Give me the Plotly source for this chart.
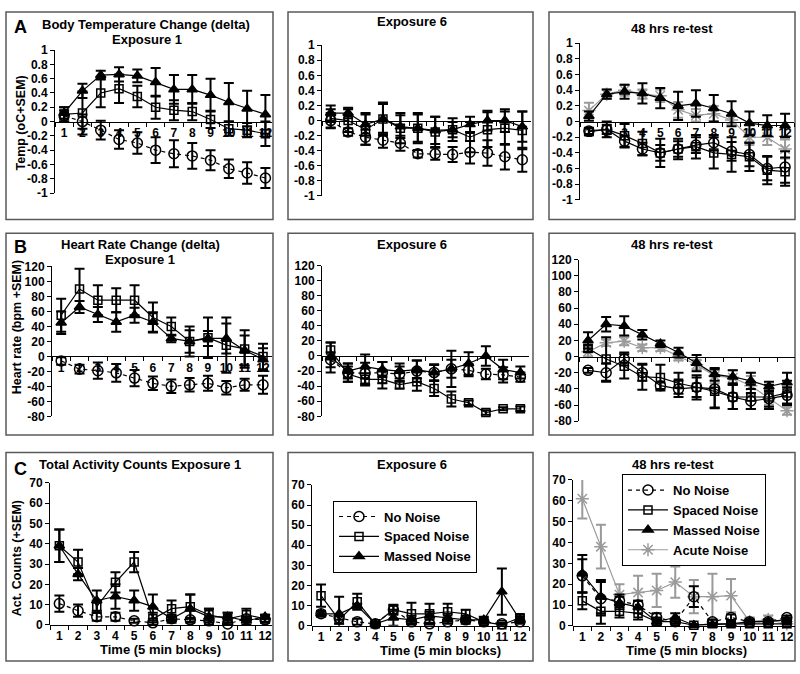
import plotly.graph_objects as go

W, H = 800, 674
blocks = [str(i) for i in range(1, 13)]

# ---- Body temperature change (oC), mean and SEM ----
temp_e1_none = [0.08, 0.0, -0.12, -0.25, -0.3, -0.4, -0.45, -0.48, -0.54, -0.66, -0.72, -0.79]
temp_e1_none_sem = [0.08, 0.1, 0.13, 0.13, 0.15, 0.18, 0.19, 0.18, 0.14, 0.13, 0.15, 0.14]
temp_e1_spaced = [0.1, 0.12, 0.4, 0.46, 0.35, 0.2, 0.16, 0.14, 0.03, -0.1, -0.12, -0.17]
temp_e1_spaced_sem = [0.1, 0.3, 0.2, 0.2, 0.15, 0.16, 0.14, 0.12, 0.12, 0.1, 0.1, 0.17]
temp_e1_massed = [0.12, 0.43, 0.65, 0.66, 0.64, 0.55, 0.45, 0.45, 0.37, 0.27, 0.18, 0.1]
temp_e1_massed_sem = [0.08, 0.1, 0.06, 0.1, 0.09, 0.2, 0.2, 0.2, 0.23, 0.27, 0.25, 0.27]

temp_e6_none = [0.0, -0.15, -0.22, -0.26, -0.3, -0.44, -0.44, -0.45, -0.42, -0.43, -0.48, -0.52]
temp_e6_none_sem = [0.1, 0.05, 0.1, 0.1, 0.1, 0.05, 0.08, 0.1, 0.15, 0.17, 0.17, 0.16]
temp_e6_spaced = [0.03, 0.0, -0.12, 0.02, -0.1, -0.1, -0.15, -0.12, -0.22, -0.12, -0.1, -0.13]
temp_e6_spaced_sem = [0.12, 0.15, 0.2, 0.22, 0.2, 0.2, 0.2, 0.15, 0.2, 0.23, 0.22, 0.25]
temp_e6_massed = [0.1, 0.1, -0.05, 0.02, -0.08, -0.1, -0.13, -0.12, -0.05, 0.0, 0.0, -0.08]
temp_e6_massed_sem = [0.1, 0.07, 0.15, 0.2, 0.15, 0.18, 0.18, 0.1, 0.1, 0.13, 0.15, 0.2]

temp_rt_none = [-0.12, -0.1, -0.25, -0.35, -0.4, -0.35, -0.3, -0.27, -0.38, -0.42, -0.6, -0.58]
temp_rt_none_sem = [0.04, 0.06, 0.07, 0.08, 0.1, 0.1, 0.1, 0.1, 0.12, 0.15, 0.15, 0.2]
temp_rt_spaced = [-0.13, -0.1, -0.18, -0.28, -0.4, -0.35, -0.32, -0.4, -0.42, -0.45, -0.62, -0.64]
temp_rt_spaced_sem = [0.04, 0.1, 0.15, 0.15, 0.18, 0.13, 0.15, 0.2, 0.22, 0.18, 0.18, 0.18]
temp_rt_massed = [0.07, 0.35, 0.38, 0.36, 0.3, 0.2, 0.23, 0.17, 0.1, -0.02, -0.05, -0.05]
temp_rt_massed_sem = [0.06, 0.06, 0.09, 0.13, 0.13, 0.18, 0.17, 0.17, 0.16, 0.15, 0.13, 0.15]
temp_rt_acute = [0.14, 0.35, 0.4, 0.35, 0.33, 0.15, 0.08, 0.1, 0.02, -0.2, -0.2, -0.35]
temp_rt_acute_sem = [0.1, 0.06, 0.07, 0.06, 0.08, 0.1, 0.08, 0.1, 0.05, 0.1, 0.1, 0.12]

# ---- Heart rate change (bpm), mean and SEM ----
hr_e1_none = [-6, -17, -19, -22, -29, -36, -40, -38, -36, -42, -38, -38]
hr_e1_none_sem = [5, 6, 11, 12, 11, 9, 9, 9, 10, 9, 8, 12]
hr_e1_spaced = [55, 90, 75, 75, 75, 52, 40, 20, 25, 15, 10, 0]
hr_e1_spaced_sem = [22, 27, 20, 16, 20, 20, 12, 20, 27, 37, 25, 17]
hr_e1_massed = [45, 66, 56, 46, 55, 46, 24, 20, 24, 24, 8, -4]
hr_e1_massed_sem = [15, 8, 10, 13, 10, 13, 5, 15, 10, 20, 20, 15]

hr_e6_none = [-5, -22, -23, -22, -24, -20, -22, -17, -19, -24, -25, -28]
hr_e6_none_sem = [10, 12, 14, 14, 10, 14, 11, 12, 8, 7, 10, 6]
hr_e6_spaced = [8, -24, -31, -31, -38, -34, -43, -57, -62, -75, -70, -70]
hr_e6_spaced_sem = [10, 10, 8, 12, 5, 12, 10, 10, 3, 3, 2, 3]
hr_e6_massed = [-2, -20, -14, -18, -20, -18, -22, -17, -10, 0, -18, -22]
hr_e6_massed_sem = [20, 10, 16, 10, 10, 12, 10, 24, 15, 13, 13, 8]

hr_rt_none = [-17, -20, -3, -20, -36, -40, -38, -40, -50, -55, -52, -48]
hr_rt_none_sem = [3, 11, 8, 10, 4, 10, 12, 24, 15, 10, 10, 10]
hr_rt_spaced = [10, -3, -12, -25, -26, -33, -38, -43, -50, -50, -50, -45]
hr_rt_spaced_sem = [4, 27, 15, 16, 16, 13, 15, 20, 15, 15, 15, 15]
hr_rt_massed = [20, 40, 38, 27, 16, 5, -8, -22, -25, -30, -37, -32]
hr_rt_massed_sem = [10, 9, 12, 6, 4, 6, 10, 8, 8, 10, 6, 12]
hr_rt_acute = [6, 17, 19, 11, 11, 0, -10, -24, -26, -36, -52, -67]
hr_rt_acute_sem = [6, 4, 5, 4, 4, 5, 6, 9, 9, 12, 8, 5]

# ---- Total activity counts, mean and SEM ----
act_e1_none = [10.5, 7, 4, 4, 2, 1, 3, 2.5, 2, 0.5, 3, 2.5]
act_e1_none_sem = [4, 3, 2, 2, 1, 1, 1, 1, 1, 0.5, 1, 1]
act_e1_spaced = [39, 31, 9, 21, 31, 3, 8, 9, 5, 3, 5, 3]
act_e1_spaced_sem = [8, 6, 3, 5, 5, 3, 4, 6, 3, 3, 3, 2]
act_e1_massed = [39, 25, 12, 14, 12, 9, 3, 8, 4, 4, 2, 4]
act_e1_massed_sem = [8, 3, 5, 6, 5, 6, 2, 7, 4, 2, 2, 1]

act_e6_none = [6, 4, 2, 1, 8, 2, 1, 2, 3, 2, 1, 2]
act_e6_none_sem = [1, 1, 1.5, 0.5, 2, 1, 0.5, 1, 1, 1, 0.5, 1]
act_e6_spaced = [15, 3, 12, 1, 8, 6, 6, 7, 6, 2, 0.5, 4]
act_e6_spaced_sem = [5.5, 2, 4, 1, 2.5, 5.5, 5, 4, 2, 1, 0.5, 1.5]
act_e6_massed = [6, 6, 10, 1, 4, 3, 5, 4, 3, 3, 17, 3]
act_e6_massed_sem = [1.5, 8.5, 1, 1, 4, 2, 2, 2, 2, 1.5, 11.5, 1.5]

act_rt_none = [24, 13, 12, 10, 4, 2, 14, 2, 4, 2, 2, 4]
act_rt_none_sem = [8, 8, 3, 2, 2, 1, 5, 1, 1.5, 1, 1, 1]
act_rt_spaced = [12, 7, 7, 6, 2, 2, 0.3, 1, 1, 1, 1, 1]
act_rt_spaced_sem = [4, 6, 3, 3, 1, 1, 0.3, 0.5, 0.5, 0.5, 0.5, 0.5]
act_rt_massed = [25, 14, 11, 9, 2, 4, 0.3, 0.5, 1, 2, 2, 3]
act_rt_massed_sem = [9, 8, 3, 3, 2, 2, 0.3, 0.5, 1, 1, 1, 1]
act_rt_acute = [61, 38, 15, 16, 17, 21, 14, 14, 14.5, 2, 3, 1]
act_rt_acute_sem = [9.5, 10.5, 5, 8, 8, 7.5, 8, 11, 8, 2, 2, 1]

temp_ticks = [1, 0.8, 0.6, 0.4, 0.2, 0, -0.2, -0.4, -0.6, -0.8, -1]
hr_ticks = [120, 100, 80, 60, 40, 20, 0, -20, -40, -60, -80]
act_ticks = [70, 60, 50, 40, 30, 20, 10, 0]

FONT = "Liberation Sans, Arial, sans-serif"
GRAY = "#9a9a9a"

STYLE = {
    "none": dict(name="No Noise", symbol="circle-open", size=10, color="black", dash="4px,4px", rank=1),
    "spaced": dict(name="Spaced Noise", symbol="square-open", size=8, color="black", dash="solid", rank=2),
    "massed": dict(name="Massed Noise", symbol="triangle-up", size=9, color="black", dash="solid", rank=3),
    "acute": dict(name="Acute Noise", symbol="asterisk-open", size=11, color=GRAY, dash="solid", rank=4),
}


def px_x(v):
    return v / W


def px_y(v):
    return 1 - v / H


# panel: series, y range, y ticks, x px domain, y px domain (top, bottom), x range end,
#        x labels shown, row letter, override dash for No Noise
panels = [
    (dict(none=(temp_e1_none, temp_e1_none_sem), spaced=(temp_e1_spaced, temp_e1_spaced_sem),
          massed=(temp_e1_massed, temp_e1_massed_sem)),
     [-1, 1], temp_ticks, (55, 272), (44, 190), 11.36, True, "A", None),
    (dict(none=(temp_e6_none, temp_e6_none_sem), spaced=(temp_e6_spaced, temp_e6_spaced_sem),
          massed=(temp_e6_massed, temp_e6_massed_sem)),
     [-1, 1], temp_ticks, (322, 531), (39, 193), 11.5, False, "A", None),
    (dict(acute=(temp_rt_acute, temp_rt_acute_sem), massed=(temp_rt_massed, temp_rt_massed_sem),
          spaced=(temp_rt_spaced, temp_rt_spaced_sem), none=(temp_rt_none, temp_rt_none_sem)),
     [-1, 1], temp_ticks, (580, 794), (37, 197), 11.5, True, "A", "solid"),
    (dict(none=(hr_e1_none, hr_e1_none_sem), spaced=(hr_e1_spaced, hr_e1_spaced_sem),
          massed=(hr_e1_massed, hr_e1_massed_sem)),
     [-80, 120], hr_ticks, (52, 272), (265, 418), 11.49, True, "B", None),
    (dict(none=(hr_e6_none, hr_e6_none_sem), spaced=(hr_e6_spaced, hr_e6_spaced_sem),
          massed=(hr_e6_massed, hr_e6_massed_sem)),
     [-80, 120], hr_ticks, (322, 529), (264, 418), 11.5, False, "B", None),
    (dict(acute=(hr_rt_acute, hr_rt_acute_sem), massed=(hr_rt_massed, hr_rt_massed_sem),
          spaced=(hr_rt_spaced, hr_rt_spaced_sem), none=(hr_rt_none, hr_rt_none_sem)),
     [-80, 120], hr_ticks, (579, 795), (258, 423), 11.44, False, "B", "solid"),
    (dict(none=(act_e1_none, act_e1_none_sem), spaced=(act_e1_spaced, act_e1_spaced_sem),
          massed=(act_e1_massed, act_e1_massed_sem)),
     [0, 70], act_ticks, (50, 272), (486, 631), 11.37, True, "C", None),
    (dict(none=(act_e6_none, act_e6_none_sem), spaced=(act_e6_spaced, act_e6_spaced_sem),
          massed=(act_e6_massed, act_e6_massed_sem)),
     [0, 70], act_ticks, (312, 529), (488, 632), 11.5, True, "C", None),
    (dict(acute=(act_rt_acute, act_rt_acute_sem), none=(act_rt_none, act_rt_none_sem),
          spaced=(act_rt_spaced, act_rt_spaced_sem), massed=(act_rt_massed, act_rt_massed_sem)),
     [0, 70], act_ticks, (573, 795), (483, 632), 11.44, True, "C", None),
]

fig = go.Figure()
layout = {}

for i, (series, yr, yticks, xd, yd, xend, labels, row, line_over) in enumerate(panels):
    n = i + 1
    xa = "x" if n == 1 else f"x{n}"
    ya = "y" if n == 1 else f"y{n}"
    xdom = [px_x(xd[0]), px_x(xd[1])]
    ydom = [px_y(yd[1]), px_y(yd[0])]
    legend_name = None
    if i == 7:
        legend_name = "legend"
    elif i == 8:
        legend_name = "legend2"

    for key, (vals, sems) in series.items():
        st = STYLE[key]
        dash = st["dash"]
        if line_over and key == "none":
            dash = line_over
        fig.add_trace(go.Scatter(
            x=blocks, y=vals, xaxis=xa, yaxis=ya,
            name=st["name"],
            mode="lines+markers",
            line=dict(color=st["color"], width=1.2, dash=dash),
            marker=dict(symbol=st["symbol"], size=st["size"], color=st["color"],
                        line=dict(color=st["color"], width=1.5)),
            error_y=dict(type="data", array=sems, visible=True, color=st["color"],
                         thickness=2, width=5),
            cliponaxis=False,
            showlegend=legend_name is not None,
            legend=legend_name or "legend",
            legendrank=st["rank"],
        ))

    # x axis crosses at y = 0
    zero_frac = (0 - yr[0]) / (yr[1] - yr[0])
    xpos = ydom[0] + zero_frac * (ydom[1] - ydom[0])
    layout["xaxis" if n == 1 else f"xaxis{n}"] = dict(
        domain=xdom, type="category", range=[-0.5, xend],
        anchor="free", position=xpos,
        showline=True, linecolor="black", linewidth=1,
        ticks="outside", ticklen=4, tickcolor="black", tickson="boundaries",
        tickangle=0,
        showticklabels=labels, showgrid=False, zeroline=False,
        tickfont=dict(family=FONT, size=12, color="black", weight="bold"),
    )
    layout["yaxis" if n == 1 else f"yaxis{n}"] = dict(
        domain=ydom, range=yr, anchor=xa,
        showline=True, linecolor="black", linewidth=1,
        ticks="outside", ticklen=4, tickcolor="black",
        tickvals=yticks, ticktext=[f"{v:g}" for v in yticks],
        showgrid=False, zeroline=False,
        tickfont=dict(family=FONT, size=12, color="black", weight="bold"),
    )

# panel frames
cols = [(6, 273), (288, 533), (549, 795)]
rows = [(5, 217), (231, 437), (455, 668)]
shapes = []
for (r0, r1) in rows:
    for (c0, c1) in cols:
        shapes.append(dict(type="rect", xref="paper", yref="paper",
                           x0=px_x(c0), x1=px_x(c1), y0=px_y(r1), y1=px_y(r0),
                           line=dict(color="#5a5a5a", width=1.5), layer="below"))


def note(text, x, y, size=13, angle=0):
    return dict(text=text, x=px_x(x), y=px_y(y), xref="paper", yref="paper",
                showarrow=False, textangle=angle, xanchor="center", yanchor="middle",
                font=dict(family=FONT, size=size, color="black", weight="bold"))


annotations = [
    note("A", 20, 20, 18),
    note("Body Temperature Change (delta)", 146, 18),
    note("Exposure 1", 147, 33),
    note("Exposure 6", 412, 15),
    note("48 hrs re-test", 672, 22),
    note("Temp (oC+SEM)", 21, 119, 12.5, -90),
    note("B", 20, 245, 18),
    note("Heart Rate Change (delta)", 140, 243),
    note("Exposure 1", 140, 258),
    note("Exposure 6", 412, 243),
    note("48 hrs re-test", 672, 243),
    note("Heart rate (bpm +SEM)", 17, 327, 12.5, -90),
    note("C", 20, 472, 18),
    note("Total Activity Counts Exposure 1", 140, 467),
    note("Exposure 6", 412, 467),
    note("48 hrs re-test", 673, 467),
    note("Act. Counts (+SEM)", 17, 563, 12.5, -90),
    note("Time (5 min blocks)", 160, 656),
    note("Time (5 min blocks)", 440, 657),
    note("Time (5 min blocks)", 686, 657),
]

legend_style = dict(
    xanchor="left", yanchor="top", bgcolor="white",
    bordercolor="black", borderwidth=1, traceorder="normal",
    font=dict(family=FONT, size=13, color="black", weight="bold"),
    tracegroupgap=0, itemwidth=40,
)

fig.update_layout(
    **layout,
    width=W, height=H,
    margin=dict(l=0, r=0, t=0, b=0),
    paper_bgcolor="white", plot_bgcolor="rgba(0,0,0,0)",
    shapes=shapes, annotations=annotations,
    legend=dict(x=px_x(333), y=px_y(504), **legend_style),
    legend2=dict(x=px_x(622), y=px_y(477), **legend_style),
    showlegend=True,
)

# the page body has a default 8px margin; remove it so the figure fills the window
fig.write_html("out.html", config={"displayModeBar": False},
               post_script="document.body.style.margin='0';")
